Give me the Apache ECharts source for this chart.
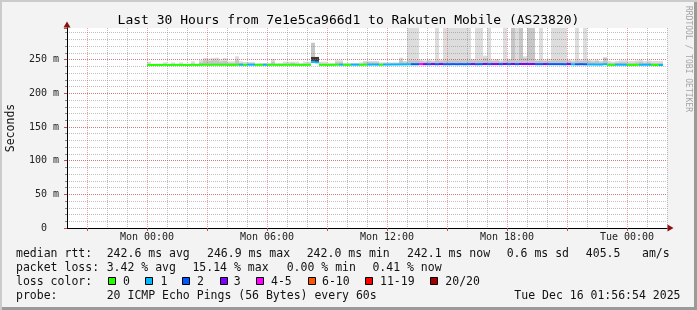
<!DOCTYPE html>
<html><head><meta charset="utf-8">
<script src="https://cdn.jsdelivr.net/npm/echarts@6/dist/echarts.min.js"></script>
<style>
html,body{margin:0;padding:0;background:#f3f3f3;}
#main{width:697px;height:310px;background:#f3f3f3;box-shadow:inset 2px 2px 0 #cbcbcb, inset -3px -3px 0 #9a9a9a;}
</style></head><body><div id="main"></div>
<script>
// ---- data (12-minute samples starting Mon 00:00) ----
const stepMinutes = 12;
const median = [
242.2,242.1,242.2,242.2,242.3,242.2,242.2,242.3,242.2,242.2,
242.2,242.3,242.2,242.4,242.5,242.4,242.5,242.5,242.4,242.5,
242.3,242.3,242.4,242.5,242.3,242.6,242.6,242.3,242.3,242.5,
242.3,242.4,242.3,242.3,242.4,242.4,242.4,242.3,242.2,242.3,
242.4,246.9,246.0,242.4,242.3,242.3,242.3,242.5,242.6,242.4,
242.4,242.6,242.6,242.4,242.5,242.7,242.8,242.7,242.5,242.8,
242.8,242.9,242.9,243.0,243.0,243.1,243.2,243.2,243.4,243.3,
243.2,243.4,243.2,243.4,243.2,243.2,243.3,243.2,243.3,243.2,
243.3,243.4,243.2,243.3,243.5,243.3,243.4,243.4,243.3,243.5,
243.3,243.5,243.3,243.5,243.5,243.4,243.5,243.3,243.3,243.4,
243.3,243.3,243.3,243.3,243.2,243.4,243.0,243.1,243.2,243.1,
242.9,242.9,242.8,242.8,243.2,242.3,242.2,242.6,242.6,242.5,
242.2,242.2,242.3,242.5,242.5,242.5,242.2,242.0,242.1];
const lostPings = [
0,0,0,0,0,0,0,0,0,0,
0,0,0,0,0,0,0,0,0,0,
0,0,0,1,0,1,1,0,0,1,
0,0,0,0,0,0,0,0,0,0,
0,1,1,0,0,0,0,0,1,0,
0,1,1,0,0,1,1,1,0,1,
1,1,1,1,1,1,2,2,4,3,
2,3,2,3,2,2,2,2,2,2,
2,3,2,2,3,2,3,3,2,3,
2,3,2,3,3,3,3,2,2,3,
2,2,2,2,2,3,1,2,2,2,
1,1,1,1,1,0,0,1,1,1,
0,0,0,1,1,1,0,0,1];
const smokeMax = [
247,243.5,243.5,243.5,246,243.5,246,243.5,246,243.5,
243.5,247.5,244,249.5,252.5,251.5,252.5,253,250,252.5,
247.5,247.5,255,247.5,246.5,246.5,246.5,244.5,245,245,
245,251,245,245,247,247,247,247,245,247,
247,275,254,247,247,245,245,249,249,245,
245,245,245,246,248,248,248,248,246,246,
246,246,246,253,248,400,400,400,250,249,
250,249,400,250,400,400,400,400,400,400,
400,251,400,400,256,400,250,251,249,400,
251,400,400,400,255,400,400,250,400,250,
251,400,400,400,400,250,249,400,250,400,
250,249,250,248,253,248,247,248,249,249,
248,248,249,250,248,249,248,248,248];
const smokeMid = [
243,243,243,243,243,243,243,243,243,243,
243,244,243,246,249,248,249,249,247,248,
245,245,249,245,244,244,244,243,243,243,
243,247,243,243,244,244,245,244,243,244,
244,275,254,244,244,243,243,246,246,243,
243,243,243,244,246,246,246,246,244,244,
244,244,244,249,246,249,249,249,248,247,
248,247,249,248,249,249,249,249,249,249,
249,249,249,249,252,249,248,249,247,249,
249,400,249,400,252,400,400,248,249,248,
248,249,249,249,249,248,247,249,248,249,
248,247,248,246,253,245,245,245,246,246,
245,245,246,247,245,246,245,245,245];
const smokeDark = [];
smokeDark[41] = 254; smokeDark[42] = 254;

const lossColors = ['#26ff00','#00b8ff','#0059ff','#7e00ff','#ff00ff','#ff5500','#ff0000','#a10000'];
const lossLabels = ['0','1','2','3','4-5','6-10','11-19','20/20'];
const lossUpper  = [0,1,2,3,5,10,19,20];

const hourCategories = []; // hours -4 .. 26 relative to Mon 00:00
const tickHours  = [0,6,12,18,24];
const tickLabels = ['Mon 00:00','Mon 06:00','Mon 12:00','Mon 18:00','Tue 00:00'];
const yMajorLabels = [0,50,100,150,200,250];

const titleText = 'Last 30 Hours from 7e1e5ca966d1 to Rakuten Mobile (AS23820)';
const rttStats  = ['median rtt:','242.6 ms avg','246.9 ms max','242.0 ms min','242.1 ms now','0.6 ms sd','405.5','am/s'];
const lossStats = ['packet loss:','3.42 % avg','15.14 % max','0.00 % min','0.41 % now'];
const probeText = ['probe:','20 ICMP Echo Pings (56 Bytes) every 60s','Tue Dec 16 01:56:54 2025'];

// ---- build ----
for (let h = -4; h <= 26; h++) {
  const k = tickHours.indexOf(h);
  hourCategories.push(k >= 0 ? tickLabels[k] : '');
}
const stepHours = stepMinutes / 60;
const times = median.map((_, i) => (i + 0.5) * stepHours);
function lossIndex(n) {
  for (let k = 0; k < lossUpper.length; k++) if (n <= lossUpper[k]) return k;
  return lossUpper.length - 1;
}
function rectItem(color) {
  return function (params, api) {
    const t = api.value(0), lo = api.value(1), hi = api.value(2);
    const c = color || lossColors[api.value(3)];
    const p1 = api.coord([t - stepHours / 2, hi]);
    const p2 = api.coord([t + stepHours / 2, lo]);
    const cs = params.coordSys;
    const shape = echarts.graphic.clipRectByRect(
      {x:p1[0], y:p1[1], width:p2[0] - p1[0], height:p2[1] - p1[1]},
      {x:cs.x, y:cs.y, width:cs.width, height:cs.height});
    if (!shape) return null;
    return {type:'rect', shape:shape, style:{fill:c}};
  };
}
const series = [];
function addLayer(tops, color, z) {
  const data = [];
  for (let i = 0; i < times.length; i++) {
    if (tops[i] != null) data.push([times[i], median[i] - 1, tops[i]]);
  }
  series.push({type:'custom', xAxisIndex:0, yAxisIndex:0, silent:true, animation:false, z:z,
    renderItem:rectItem(color), encode:{x:0, y:[1,2]}, data:data});
}
addLayer(smokeMax, '#dddddd', 1);
addLayer(smokeMid, '#c6c6c6', 1);
addLayer(smokeDark, '#3a3a3a', 1);
series.push({type:'custom', xAxisIndex:0, yAxisIndex:0, silent:true, animation:false, z:10,
  renderItem:rectItem(null), encode:{x:0, y:[1,2]},
  data: times.map((t, i) => [t, median[i] - 1.5, median[i] + 1.5, lossIndex(lostPings[i])])});

const mono = '"DejaVu Sans Mono", monospace';
const minorColor = 'rgba(128,128,128,0.5)';
const majorColor = 'rgba(222,48,48,0.45)';
const arrowColor = '#8b1010';

const gfx = [];
function txt(x, y, s, extra) {
  gfx.push(Object.assign({type:'text', x:x, y:y, silent:true,
    style:Object.assign({text:s, font:'11.5px ' + mono, fill:'#111', align:'left', textAlign:'left', verticalAlign:'middle', textVerticalAlign:'middle'}, (extra||{}).style||{})},
    extra ? {rotation: extra.rotation || 0} : {}));
}
const row1X = [16,106.7,207,306.7,407,506.7,585.8,642];
rttStats.forEach((s, k) => txt(row1X[k], 254.3, s));
const row2X = [16,106.7,192.4,286.7,372.4];
lossStats.forEach((s, k) => txt(row2X[k], 268.3, s));
txt(16, 282.3, 'loss color:');
const swX = [108,145.3,182.2,219.6,256.4,307.6,365.3,430.2];
const lbX = [123,160.4,197,233.8,271,322,380,445.3];
lossLabels.forEach((s, k) => {
  gfx.push({type:'rect', silent:true, shape:{x:Math.round(swX[k])+0.5, y:277.5, width:7, height:7},
    style:{fill:lossColors[k], stroke:'#000', lineWidth:1}});
  txt(lbX[k], 282.3, s);
});
txt(16, 296, probeText[0]);
txt(106.7, 296, probeText[1]);
txt(680.5, 296, probeText[2], {style:{align:'right', textAlign:'right'}});
txt(11, 128, 'Seconds', {rotation: Math.PI/2, style:{align:'center', textAlign:'center'}});
txt(688, 59, 'RRDTOOL / TOBI OETIKER', {rotation: -Math.PI/2, style:{align:'center', textAlign:'center', font:'8px ' + mono, fill:'#a4a4a4'}});

const chart = echarts.init(document.getElementById('main'), null, {renderer:'canvas'});
chart.setOption({
  animation:false,
  backgroundColor:'transparent',
  title:{text:titleText, left:'center', top:9, textStyle:{fontFamily:mono, fontSize:13, fontWeight:'normal', color:'#000'}},
  grid:{left:67, top:28, width:600, height:200, containLabel:false, outerBoundsMode:'none', show:true, backgroundColor:'#ffffff', borderWidth:0},
  xAxis:[
    {type:'value', min:-4, max:26, position:'bottom', z:6,
      axisLine:{show:true, onZero:false, symbol:['none','triangle'], symbolSize:[7,6], symbolOffset:[0,3.5], lineStyle:{color:arrowColor, width:1}},
      axisTick:{show:false}, axisLabel:{show:false}, splitLine:{show:false}},
    {type:'category', data:hourCategories, boundaryGap:false, position:'top', z:3,
      axisLine:{show:false}, axisTick:{show:false}, axisLabel:{show:false},
      splitLine:{show:true, interval:(i) => ((i - 4) % 3) !== 0, lineStyle:{color:minorColor, type:[1,1], width:1}}},
    {type:'category', data:hourCategories, boundaryGap:false, position:'bottom', z:6,
      axisLine:{show:true, onZero:false, lineStyle:{color:'#000', width:1}},
      axisTick:{show:true, interval:(i) => ((i - 4) % 3) === 0, length:3, lineStyle:{color:'#c05050'}},
      axisLabel:{show:true, interval:0, margin:4, fontFamily:mono, fontSize:10, color:'#222'},
      splitLine:{show:true, interval:(i) => ((i - 4) % 3) === 0 && i > 0, lineStyle:{color:majorColor, type:[1,1], width:1}}}
  ],
  yAxis:[
    {type:'value', min:0, max:297, interval:10, position:'left', z:3,
      axisLine:{show:true, onZero:false, symbol:['none','triangle'], symbolSize:[7,6], symbolOffset:[0,3.5], lineStyle:{color:arrowColor, width:1}},
      axisTick:{show:true, length:2, lineStyle:{color:'#888'}}, axisLabel:{show:false},
      splitLine:{show:true, showMinLine:false, showMaxLine:false, lineStyle:{color:minorColor, type:[1,1], width:1}}},
    {type:'value', min:0, max:297, interval:50, position:'left', z:6,
      axisLine:{show:true, onZero:false, lineStyle:{color:'#000', width:1}},
      axisTick:{show:true, length:3, lineStyle:{color:'#c05050'}},
      axisLabel:{show:true, margin:8, fontFamily:mono, fontSize:10, color:'#222',
        formatter:(v) => yMajorLabels.indexOf(v) < 0 ? '' : (v === 0 ? '0  ' : v + ' m')},
      splitLine:{show:true, showMinLine:false, showMaxLine:false, lineStyle:{color:majorColor, type:[1,1], width:1}}}
  ],
  series: series,
  graphic: gfx
});
</script></body></html>
